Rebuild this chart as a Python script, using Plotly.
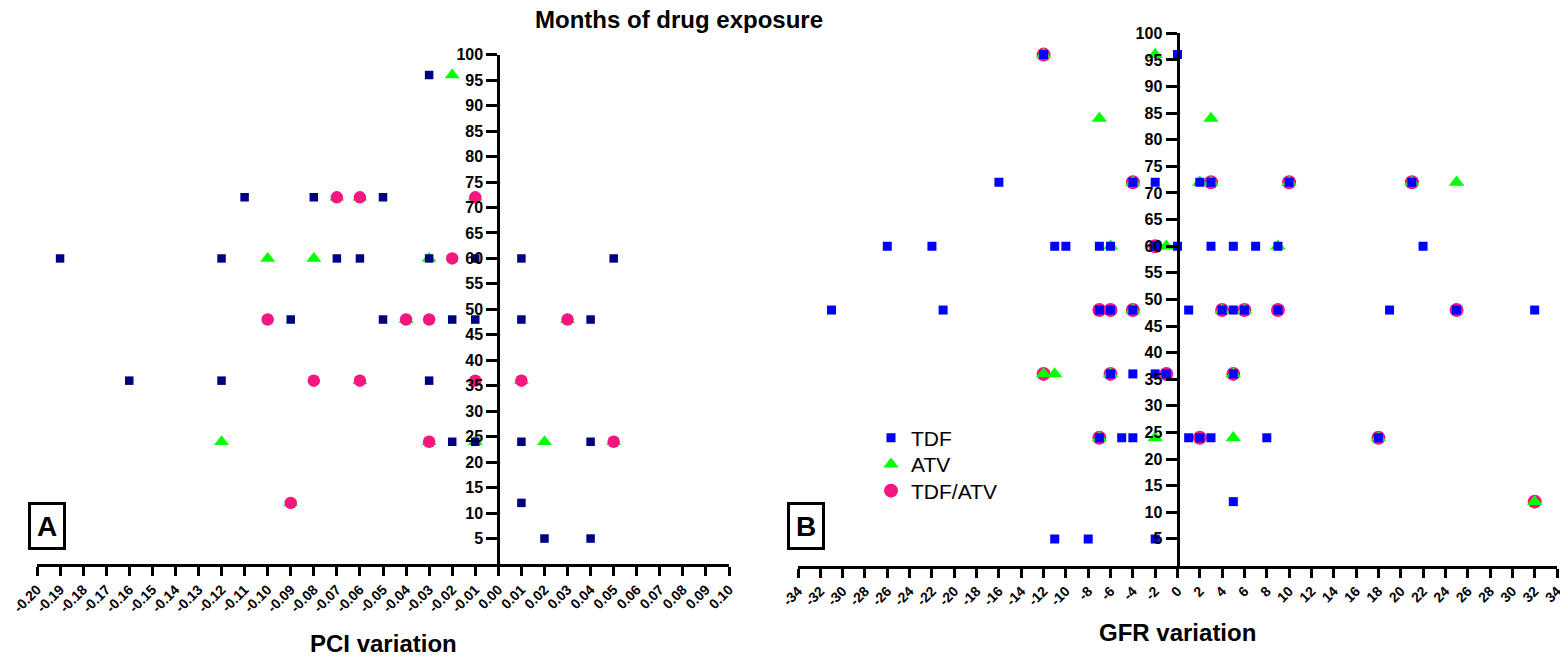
import plotly.graph_objects as go

# ---------------- data ----------------
# Panel A: PCI variation vs months of drug exposure
A_TDF_X = [-0.03,
           -0.11, -0.08, -0.05,
           -0.19, -0.12, -0.07, -0.06, -0.03, -0.01, 0.01, 0.05,
           -0.09, -0.05, -0.02, -0.01, 0.01, 0.04,
           -0.16, -0.12, -0.03,
           -0.02, -0.01, 0.01, 0.04,
           0.01,
           0.02, 0.04]
A_TDF_Y = [96,
           72, 72, 72,
           60, 60, 60, 60, 60, 60, 60, 60,
           48, 48, 48, 48, 48, 48,
           36, 36, 36,
           24, 24, 24, 24,
           12,
           5, 5]
A_ATV_X = [-0.02,
           -0.07, -0.06, -0.01,
           -0.10, -0.08, -0.03,
           -0.04, 0.03,
           -0.06, 0.01,
           -0.12, -0.03, -0.01, 0.02, 0.05,
           -0.09]
A_ATV_Y = [96,
           72, 72, 72,
           60, 60, 60,
           48, 48,
           36, 36,
           24, 24, 24, 24, 24,
           12]
A_BOTH_X = [-0.07, -0.06, -0.01,
            -0.02,
            -0.10, -0.04, -0.03, 0.03,
            -0.08, -0.06, -0.01, 0.01,
            -0.03, 0.05,
            -0.09]
A_BOTH_Y = [72, 72, 72,
            60,
            48, 48, 48, 48,
            36, 36, 36, 36,
            24, 24,
            12]

# Panel B: GFR variation vs months of drug exposure
B_TDF_X = [-12, 0,
           -16, -4, -2, 2, 3, 10, 21,
           -26, -22, -11, -10, -7, -6, -2, 0, 3, 5, 7, 9, 22,
           -31, -21, -7, -6, -4, 1, 4, 5, 6, 9, 19, 25, 32,
           -6, -4, -2, -1, 5,
           -7, -5, -4, 1, 2, 3, 8, 18,
           5,
           -11, -8, -2]
B_TDF_Y = [96, 96,
           72, 72, 72, 72, 72, 72, 72,
           60, 60, 60, 60, 60, 60, 60, 60, 60, 60, 60, 60, 60,
           48, 48, 48, 48, 48, 48, 48, 48, 48, 48, 48, 48, 48,
           36, 36, 36, 36, 36,
           24, 24, 24, 24, 24, 24, 24, 24,
           12,
           5, 5, 5]
B_ATV_X = [-12, -2,
           -7, 3,
           -4, 2, 3, 10, 21, 25,
           -6, -1, 9,
           -4, 4, 6,
           -12, -11, -6, 5,
           -7, -2, 5, 18,
           32]
B_ATV_Y = [96, 96,
           84, 84,
           72, 72, 72, 72, 72, 72,
           60, 60, 60,
           48, 48, 48,
           36, 36, 36, 36,
           24, 24, 24, 24,
           12]
B_BOTH_X = [-12,
            -4, 3, 10, 21,
            -2,
            -7, -6, -4, 4, 6, 9, 25,
            -12, -6, -1, 5,
            -7, 2, 18,
            32]
B_BOTH_Y = [96,
            72, 72, 72, 72,
            60,
            48, 48, 48, 48, 48, 48, 48,
            36, 36, 36, 36,
            24, 24, 24,
            12]

SERIES = ["TDF", "ATV", "TDF/ATV"]

A_XTICKS = [round(-0.20 + 0.01 * i, 2) for i in range(31)]
A_XTICKTEXT = [f"{v:.2f}" for v in A_XTICKS]
B_XTICKS = list(range(-34, 35, 2))
B_XTICKTEXT = [str(v) for v in B_XTICKS]
YTICKS = list(range(5, 101, 5))
YTICKTEXT = [str(v) for v in YTICKS]

TITLE = "Months of drug exposure"
A_XTITLE = "PCI variation"
B_XTITLE = "GFR variation"

# ---------------- styles / layout ----------------
FONT = "Liberation Sans, Arial, sans-serif"
NAVY = "#000080"
BLUE = "#0000FF"
GREEN = "#00FF00"
PINK = "#F51680"

A_RANGE = [-0.20, 0.10]
B_RANGE = [-34, 34]
Y_RANGE = [0, 100]

# the page body has an 8px margin: shrink the figure so it fits the window
OFF = 8
W, H = 1568 - OFF, 658 - OFF


def px(x):
    return (x - OFF) / W


def py(y):
    return 1 - (y - OFF) / H


A_DOM = [px(37), px(729)]
B_DOM = [px(798), px(1557)]
A_YDOM = [py(564), py(54.7)]
B_YDOM = [py(565.5), py(33.3)]


def cross_pos(dom, rng):
    return dom[0] + (0 - rng[0]) / (rng[1] - rng[0]) * (dom[1] - dom[0])


fig = go.Figure()

# Panel A traces (drawn: ATV, TDF, TDF/ATV)
fig.add_trace(go.Scatter(x=A_ATV_X, y=A_ATV_Y, mode="markers", name=SERIES[1],
                         marker=dict(symbol="triangle-up", size=13, color=GREEN),
                         xaxis="x", yaxis="y", showlegend=False))
fig.add_trace(go.Scatter(x=A_TDF_X, y=A_TDF_Y, mode="markers", name=SERIES[0],
                         marker=dict(symbol="square", size=8.5, color=NAVY),
                         xaxis="x", yaxis="y", showlegend=False))
fig.add_trace(go.Scatter(x=A_BOTH_X, y=A_BOTH_Y, mode="markers", name=SERIES[2],
                         marker=dict(symbol="circle", size=12.5, color=PINK),
                         xaxis="x", yaxis="y", showlegend=False))

# Panel B traces (drawn: TDF/ATV, ATV, TDF); one legend box per series
fig.add_trace(go.Scatter(x=B_BOTH_X, y=B_BOTH_Y, mode="markers", name=SERIES[2],
                         marker=dict(symbol="circle", size=14, color=PINK),
                         xaxis="x2", yaxis="y2", legend="legend3"))
fig.add_trace(go.Scatter(x=B_ATV_X, y=B_ATV_Y, mode="markers", name=SERIES[1],
                         marker=dict(symbol="triangle-up", size=13.5, color=GREEN),
                         xaxis="x2", yaxis="y2", legend="legend2"))
fig.add_trace(go.Scatter(x=B_TDF_X, y=B_TDF_Y, mode="markers", name=SERIES[0],
                         marker=dict(symbol="square", size=9, color=BLUE),
                         xaxis="x2", yaxis="y2", legend="legend"))

xtickfont = dict(family=FONT, size=14, color="black", weight="bold")
ytickfont = dict(family=FONT, size=16, color="black", weight="bold")

common_x = dict(showgrid=False, zeroline=False, showline=True, linewidth=3, linecolor="black",
                ticks="outside", ticklen=9, tickwidth=3, tickcolor="black",
                tickangle=-45, tickfont=xtickfont, tickmode="array", fixedrange=True,
                automargin=False)
common_y = dict(showgrid=False, zeroline=False, showline=True, linewidth=3, linecolor="black",
                ticks="outside", ticklen=11, tickwidth=3, tickcolor="black",
                tickfont=ytickfont, tickmode="array", tickvals=YTICKS, ticktext=YTICKTEXT,
                range=Y_RANGE, anchor="free", side="left", fixedrange=True, automargin=False)
inner_y = dict(showgrid=False, zeroline=False, showline=False, showticklabels=False,
               ticks="inside", ticklen=15, tickwidth=3, tickcolor="black",
               tickmode="array", tickvals=YTICKS, range=Y_RANGE, anchor="free",
               side="left", fixedrange=True, automargin=False)

legend_style = dict(xanchor="left", yanchor="middle", bgcolor="rgba(0,0,0,0)", borderwidth=0,
                    font=dict(family=FONT, size=21, color="black"), itemsizing="trace")

fig.update_layout(
    width=W, height=H, autosize=False,
    margin=dict(l=0, r=0, t=0, b=0, pad=0, autoexpand=False),
    paper_bgcolor="white", plot_bgcolor="white",
    font=dict(family=FONT, color="black"),
    xaxis=dict(common_x, domain=A_DOM, range=A_RANGE, anchor="y",
               tickvals=A_XTICKS, ticktext=A_XTICKTEXT),
    yaxis=dict(common_y, domain=A_YDOM, position=cross_pos(A_DOM, A_RANGE)),
    xaxis2=dict(common_x, domain=B_DOM, range=B_RANGE, anchor="y2",
                tickvals=B_XTICKS, ticktext=B_XTICKTEXT),
    yaxis2=dict(common_y, domain=B_YDOM, position=cross_pos(B_DOM, B_RANGE)),
    yaxis3=dict(inner_y, overlaying="y", position=cross_pos(A_DOM, A_RANGE)),
    yaxis4=dict(inner_y, overlaying="y2", position=cross_pos(B_DOM, B_RANGE)),
    showlegend=True,
    legend=dict(legend_style, x=px(871), y=py(438)),
    legend2=dict(legend_style, x=px(871), y=py(464.5)),
    legend3=dict(legend_style, x=px(871), y=py(491)),
    annotations=[
        dict(text=TITLE, x=px(679), y=py(19), xref="paper", yref="paper",
             xanchor="center", yanchor="middle", showarrow=False,
             font=dict(family=FONT, size=24, color="black", weight="bold")),
        dict(text=A_XTITLE, x=(A_DOM[0] + A_DOM[1]) / 2, y=py(643), xref="paper", yref="paper",
             xanchor="center", yanchor="middle", showarrow=False,
             font=dict(family=FONT, size=24, color="black", weight="bold")),
        dict(text=B_XTITLE, x=(B_DOM[0] + B_DOM[1]) / 2, y=py(632), xref="paper", yref="paper",
             xanchor="center", yanchor="middle", showarrow=False,
             font=dict(family=FONT, size=24, color="black", weight="bold")),
        dict(text="A", x=px(46.5), y=py(526.3), xref="paper", yref="paper",
             xanchor="center", yanchor="middle", showarrow=False,
             width=30, height=40, borderpad=1, borderwidth=3, bordercolor="black",
             font=dict(family=FONT, size=28, color="black", weight="bold")),
        dict(text="B", x=px(806), y=py(526), xref="paper", yref="paper",
             xanchor="center", yanchor="middle", showarrow=False,
             width=30, height=40, borderpad=1, borderwidth=3, bordercolor="black",
             font=dict(family=FONT, size=28, color="black", weight="bold")),
    ],
)

fig.write_html("out.html")
